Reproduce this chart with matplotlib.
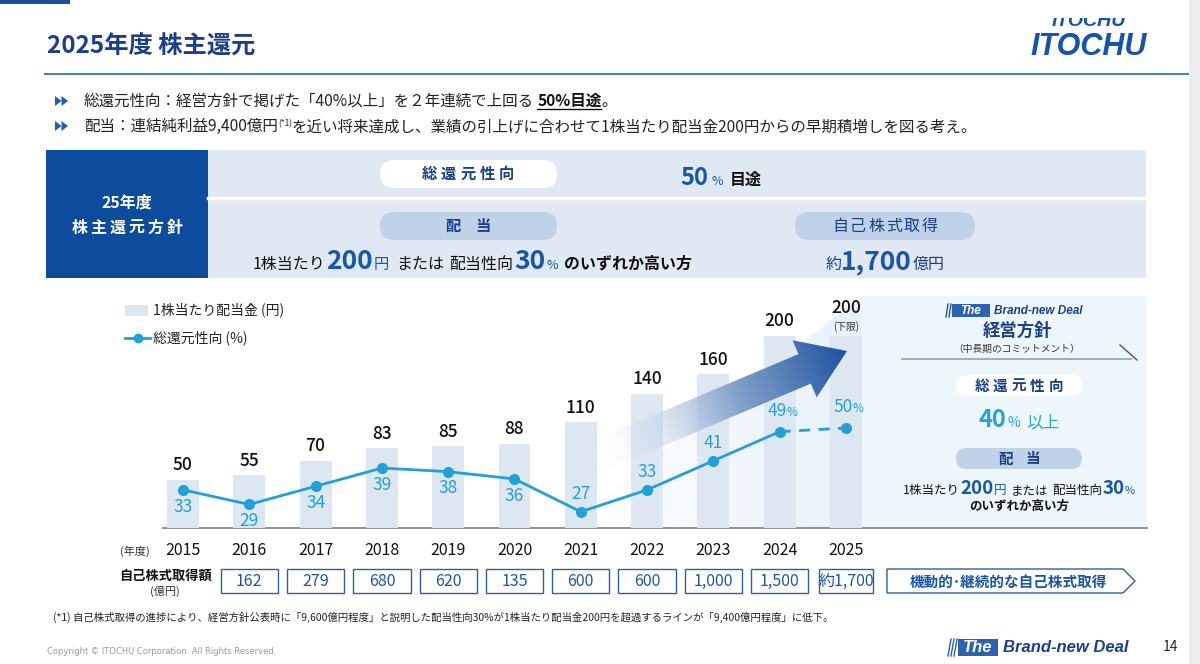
import matplotlib
matplotlib.use('Agg')
import matplotlib.pyplot as plt
import matplotlib.transforms as mtrans
import numpy as np
from matplotlib.patches import FancyBboxPatch, Rectangle, Polygon

plt.rcParams['font.family'] = ['Noto Sans CJK JP', 'DejaVu Sans']

# ---------------- data ----------------
years = ['2015', '2016', '2017', '2018', '2019', '2020', '2021', '2022', '2023', '2024', '2025']
dividend = [50, 55, 70, 83, 85, 88, 110, 140, 160, 200, 200]
payout = [33, 29, 34, 39, 38, 36, 27, 33, 41, 49, 50]
buyback_years = ['2016', '2017', '2018', '2019', '2020', '2021', '2022', '2023', '2024', '2025']
buyback = ['162', '279', '680', '620', '135', '600', '600', '1,000', '1,500', '約1,700']

NAVY = '#1b3f8b'
DARK = '#0d4c9c'
BLUE = '#1a56a6'
CYAN = '#22a0da'
LIGHT = '#dfe8f3'
BARC = '#dde7f2'
PILL = '#c0d2e8'

fig = plt.figure(figsize=(12, 6.64), dpi=100)
bg = fig.add_axes([0, 0, 1, 1], zorder=0)
bg.set_xlim(0, 1200); bg.set_ylim(664, 0); bg.axis('off')
R = fig.canvas.get_renderer()


def seq(ax, pieces, x, y, ha='left'):
    objs = []; cur = 0
    for p in pieces:
        if isinstance(p, (int, float)):
            cur += p; continue
        s, size, color, weight = p[:4]
        dy = p[4] if len(p) > 4 else 0
        t = ax.text(0, y + dy, s, fontsize=size, color=color, weight=weight,
                    va='baseline', ha='left')
        w = t.get_window_extent(R).width
        objs.append((t, cur, w)); cur += w
    off = x if ha == 'left' else (x - cur / 2 if ha == 'center' else x - cur)
    for t, c, w in objs:
        t.set_x(off + c)
    return off, off + cur, objs


def spaced(ax, s, xc, y, size, color, weight='bold', spacing=4):
    ts = []; ws = []
    for ch in s:
        t = ax.text(0, y, ch, fontsize=size, color=color, weight=weight, va='center', ha='left')
        ts.append(t); ws.append(t.get_window_extent(R).width)
    total = sum(ws) + spacing * (len(s) - 1)
    x = xc - total / 2
    for t, w in zip(ts, ws):
        t.set_x(x); x += w + spacing


def pill(ax, x0, y0, x1, y1, color, z=2):
    h = y1 - y0
    p = FancyBboxPatch((x0, y0), x1 - x0, h, boxstyle=f'round,pad=0,rounding_size={h/2}',
                       fc=color, ec='none', zorder=z)
    ax.add_patch(p)

# ---------------- header ----------------
bg.add_patch(Rectangle((0, 0), 70, 4, fc='#1a4f9c', ec='none'))
bg.add_patch(Rectangle((1189, 0), 11, 664, fc='#ececec', ec='none'))
bg.text(47, 47, '2025年度 株主還元', fontsize=17.5, weight='bold', color=NAVY, va='center')
bg.plot([45, 1188], [74, 74], color='#4a7fc0', lw=1.5)
# logo
bg.text(1089, 47, 'ITOCHU', fontsize=22, weight='bold', style='italic', color='#1652b0',
        family='Liberation Sans', ha='center', va='center')
t = bg.text(1089, 21, 'ITOCHU', fontsize=14, weight='bold', style='italic', color='#1652b0',
            family='Liberation Sans', ha='center', va='center')
clip = Rectangle((1020, 18), 140, 12, transform=bg.transData)
t.set_clip_path(clip)
t.set_clip_on(True)

# bullets
for yb in (101, 126):
    bg.add_patch(Polygon([(55, yb - 5), (55, yb + 5), (61.5, yb)], fc='#1f5fb0', ec='none'))
    bg.add_patch(Polygon([(61.5, yb - 5), (61.5, yb + 5), (68, yb)], fc='#1f5fb0', ec='none'))
x0, x1, objs = seq(bg, [('総還元性向：経営方針で掲げた「40%以上」を２年連続で上回る', 11.2, '#222', 'normal'), 3,
                        ('50%目途', 11.2, '#111', 'bold'), ('。', 11.2, '#111', 'normal')], 84, 106)
tt, c, w = objs[1]
bg.plot([tt.get_position()[0], tt.get_position()[0] + w], [109, 109], color='#111', lw=1)
seq(bg, [('配当：連結純利益9,400億円', 11.2, '#222', 'normal'), ('(*1)', 6, '#222', 'normal', -5),
         ('を近い将来達成し、業績の引上げに合わせて1株当たり配当金200円からの早期積増しを図る考え。', 11.2, '#222', 'normal')],
    84, 131)

# ---------------- policy box ----------------
bg.add_patch(Rectangle((46, 150), 162, 128, fc=DARK, ec='none'))
bg.add_patch(Rectangle((208, 150), 938, 128, fc=LIGHT, ec='none'))
bg.plot([208, 1146], [198, 198], color='white', lw=2.5)
bg.text(127, 203, '25年度', fontsize=11.5, color='white', weight='bold', ha='center', va='center')
spaced(bg, '株主還元方針', 127, 228, 11.5, 'white', spacing=3)

pill(bg, 380, 160, 557, 188, 'white')
spaced(bg, '総還元性向', 468, 174, 11, NAVY, spacing=4)
seq(bg, [('50', 17, BLUE, 'bold'), 4, ('%', 9, BLUE, 'normal'), 6, ('目途', 11.5, '#111', 'bold')], 680, 185)

pill(bg, 380, 212, 557, 240, PILL)
spaced(bg, '配当', 468, 226, 11, NAVY, spacing=14)
seq(bg, [('1株当たり', 11.5, '#111', 'normal'), 1, ('200', 19, BLUE, 'bold'), 1, ('円', 11, BLUE, 'normal'), 7,
         ('または', 11.5, '#111', 'normal'), 5, ('配当性向', 11.5, '#111', 'normal'), 1,
         ('30', 19, BLUE, 'bold'), 1, ('%', 9, BLUE, 'normal'), 6, ('のいずれか高い方', 11.5, '#111', 'bold')],
    472, 269, ha='center')

pill(bg, 795, 212, 975, 240, PILL)
spaced(bg, '自己株式取得', 885, 226, 11.5, NAVY, weight='normal', spacing=2)
seq(bg, [('約', 11.5, NAVY, 'normal'), ('1,700', 19, BLUE, 'bold'), 1, ('億円', 11.5, NAVY, 'normal')],
    885, 269, ha='center')

# ---------------- background wedge & right panel ----------------
H, W = 240, 320
gx = np.linspace(0, 1, W)[None, :].repeat(H, 0)
img = np.zeros((H, W, 4))
img[..., 0] = 0xe3 / 255; img[..., 1] = 0xef / 255; img[..., 2] = 0xf9 / 255
img[..., 3] = np.clip(gx * 0.9, 0, 1)
wedge = Polygon([(565, 528), (862, 296), (862, 528)], transform=bg.transData, fc='none', ec='none')
bg.add_patch(wedge)
im = bg.imshow(img, extent=(560, 880, 528, 288), origin='upper', aspect='auto', zorder=1)
im.set_clip_path(wedge)
bg.set_xlim(0, 1200); bg.set_ylim(664, 0)

bg.add_patch(Rectangle((862, 296), 285, 232, fc='#edf6fb', ec='none', zorder=1))

# ---------------- chart ----------------
L, Rt, T, B = 150, 880, 290, 528
ax = fig.add_axes([L / 1200, (664 - B) / 664, (Rt - L) / 1200, (B - T) / 664], zorder=2)
ax.patch.set_alpha(0)
x = np.arange(len(years))
ax.set_xlim((L - 183) / 66.3, (Rt - 183) / 66.3)
ax.set_ylim(0, (B - T) / 0.96)
ax.bar(x, dividend, width=0.48, color=BARC, zorder=1)
for s in ax.spines.values():
    s.set_visible(False)
ax.set_yticks([])
ax.set_xticks(x, years, fontsize=11.5, color='#111')
ax.tick_params(axis='x', length=0, pad=10)
for i, v in enumerate(dividend):
    dy = 14 if i == 10 else 4
    ax.annotate(str(v), (i, v), xytext=(0, dy), textcoords='offset points', ha='center',
                va='bottom', fontsize=12.5, color='#111', weight='medium')
ax.annotate('(下限)', (10, dividend[10]), xytext=(0, 3), textcoords='offset points', ha='center',
            va='bottom', fontsize=7, color='#333')

ax2 = ax.twinx()
ax2.set_ylim((610 - B) / 3.64, (610 - T) / 3.64)
ax2.axis('off')
ax2.plot(x[:10], payout[:10], color=CYAN, lw=2, zorder=3)
ax2.plot(x[9:], payout[9:], color=CYAN, lw=2, ls=(0, (4, 3)), zorder=3)
ax2.plot(x, payout, 'o', color=CYAN, ms=7, zorder=4)
for i, v in enumerate(payout):
    if i < 6:
        ax2.annotate(str(v), (i, v), xytext=(0, -12), textcoords='offset points', ha='center',
                     va='center', fontsize=12.5, color=CYAN)
    elif i < 9:
        ax2.annotate(str(v), (i, v), xytext=(0, 13), textcoords='offset points', ha='center',
                     va='center', fontsize=12.5, color=CYAN)
    else:
        ax2.annotate(str(v), (i, v), xytext=(5, 15), textcoords='offset points', ha='right',
                     va='center', fontsize=12.5, color=CYAN)
        ax2.annotate('%', (i, v), xytext=(5, 14), textcoords='offset points', ha='left',
                     va='center', fontsize=8.5, color=CYAN)

# buyback row (x from chart data, y in page pixels)
blend = mtrans.blended_transform_factory(ax.transData, bg.transData)
for yr, lab in zip(buyback_years, buyback):
    i = years.index(yr)
    w = 0.865 if lab[0] != '約' else 0.82
    ax.add_patch(Rectangle((i - w / 2, 569), w, 24, transform=blend, fc='white', ec='#2d5fa8',
                           lw=1, clip_on=False))
    ax.text(i, 581.5, lab, transform=blend, ha='center', va='center', fontsize=11.5,
            color=BLUE, clip_on=False)

# ---------------- overlay: arrow ----------------
ov = fig.add_axes([0, 0, 1, 1], zorder=3)
ov.set_xlim(0, 1200); ov.set_ylim(664, 0); ov.axis('off'); ov.patch.set_alpha(0)
tail = np.array([598.0, 456.0]); tip = np.array([847.0, 351.0])
u = (tip - tail) / np.linalg.norm(tip - tail); n = np.array([-u[1], u[0]])
hb = tip - 46 * u
pts = [tail + 16 * n, hb + 16 * n, hb + 31 * n, tip, hb - 31 * n, hb - 16 * n, tail - 16 * n]
arrow = Polygon(pts, transform=ov.transData, fc='none', ec='none')
ov.add_patch(arrow)
ax0, ax1, ay0, ay1 = 585, 855, 325, 485
gw, gh = ax1 - ax0, ay1 - ay0
XX, YY = np.meshgrid(np.linspace(ax0, ax1, gw), np.linspace(ay0, ay1, gh))
tproj = ((XX - tail[0]) * u[0] + (YY - tail[1]) * u[1]) / np.linalg.norm(tip - tail)
tproj = np.clip(tproj, 0, 1)
c0 = np.array([0xdd, 0xe8, 0xf4]) / 255; c1 = np.array([0x1d, 0x52, 0x9e]) / 255
ai = np.zeros((gh, gw, 4))
f = tproj ** 1.3
for k in range(3):
    ai[..., k] = c0[k] + (c1[k] - c0[k]) * f
ai[..., 3] = np.clip(tproj * 1.8, 0, 1)
im2 = ov.imshow(ai, extent=(ax0, ax1, ay1, ay0), origin='upper', aspect='auto')
im2.set_clip_path(arrow)
ov.set_xlim(0, 1200); ov.set_ylim(664, 0)

# ---------------- legend ----------------
bg.add_patch(Rectangle((125, 305), 23, 11, fc=BARC, ec='none'))
bg.text(153, 310, '1株当たり配当金 (円)', fontsize=10, color='#222', va='center')
bg.plot([125, 150], [338, 338], color=CYAN, lw=2)
bg.plot([137.5], [338], 'o', color=CYAN, ms=6)
bg.text(153, 338, '総還元性向 (%)', fontsize=10, color='#222', va='center')

# baseline
bg.plot([163, 1147], [528, 528], color='#8a8a8a', lw=1.3, zorder=3)

# ---------------- right panel contents ----------------
bg.plot([946, 948], [317, 304], color=BLUE, lw=1)
bg.plot([949, 951], [317, 304], color=BLUE, lw=1)
bg.add_patch(Rectangle((952, 304), 38, 13, fc='#2d62b0', ec='none', zorder=2))
bg.text(971, 310.5, 'The', fontsize=8.5, color='white', weight='bold', style='italic',
        family='Liberation Sans', ha='center', va='center', zorder=3)
bg.text(994, 310.5, 'Brand-new Deal', fontsize=8.5, color=NAVY, weight='bold', style='italic',
        family='Liberation Sans', ha='left', va='center', zorder=3)
bg.text(1017, 331, '経営方針', fontsize=12.5, weight='bold', color=NAVY, ha='center', va='center', zorder=3)
bg.text(1017, 349, '（中長期のコミットメント）', fontsize=7, color='#333', ha='center', va='center', zorder=3)
bg.plot([902, 1131], [359, 359], color='#8aa3c4', lw=1.2, zorder=3)
bg.plot([1120, 1137], [345, 360], color='#555', lw=1, zorder=3)
pill(bg, 956, 375, 1082, 396, 'white', z=2)
spaced(bg, '総還元性向', 1019, 385.5, 10.5, NAVY, spacing=4)
seq(bg, [('40', 17, '#29a1d9', 'bold'), 1, ('%', 10, '#29a1d9', 'normal'), 6, ('以上', 12, '#29a1d9', 'normal')],
    1019, 427, ha='center')
pill(bg, 956, 448, 1082, 469, PILL, z=2)
spaced(bg, '配当', 1019, 458.5, 10.5, NAVY, spacing=12)
seq(bg, [('1株当たり', 9, '#111', 'normal'), ('200', 13.5, BLUE, 'bold'), ('円', 9, BLUE, 'normal'), 5,
         ('または', 9, '#111', 'normal'), 4, ('配当性向', 9, '#111', 'normal'),
         ('30', 13.5, BLUE, 'bold'), ('%', 8, BLUE, 'normal')], 1019, 494, ha='center')
bg.text(1019, 506, 'のいずれか高い方', fontsize=9, weight='bold', color='#111', ha='center', va='center')

# ---------------- bottom rows ----------------
bg.text(135, 551, '(年度)', fontsize=8, color='#333', ha='center', va='center')
bg.text(165, 576, '自己株式取得額', fontsize=9.5, weight='bold', color='#111', ha='center', va='center')
bg.text(165, 591, '(億円)', fontsize=8, color='#333', ha='center', va='center')
bg.add_patch(Polygon([(887, 569), (1123, 569), (1135, 581), (1123, 593), (887, 593)],
                     fc='white', ec='#2d5fa8', lw=1))
bg.text(1008, 581.5, '機動的･継続的な自己株式取得', fontsize=10.5, weight='bold', color=BLUE,
        ha='center', va='center')

bg.text(53, 617, '(*1) 自己株式取得の進捗により、経営方針公表時に「9,600億円程度」と説明した配当性向30%が1株当たり配当金200円を超過するラインが「9,400億円程度」に低下。',
        fontsize=7.5, color='#222', va='center')
bg.text(47, 651, 'Copyright © ITOCHU Corporation. All Rights Reserved.', fontsize=6, color='#999',
        va='center', family='DejaVu Sans')

for xo in (948, 951, 954):
    bg.plot([xo, xo + 3], [656, 639], color='#2d62b0', lw=1)
bg.add_patch(Rectangle((958, 639), 40, 17, fc='#2d62b0', ec='none'))
bg.text(978, 647.5, 'The', fontsize=12, color='white', weight='bold', style='italic',
        family='Liberation Sans', ha='center', va='center')
bg.text(1003, 647.5, 'Brand-new Deal', fontsize=12, color=NAVY, weight='bold', style='italic',
        family='Liberation Sans', ha='left', va='center')
bg.text(1170, 647, '14', fontsize=10, color='#222', ha='center', va='center')

fig.savefig('out.png', dpi=100)
